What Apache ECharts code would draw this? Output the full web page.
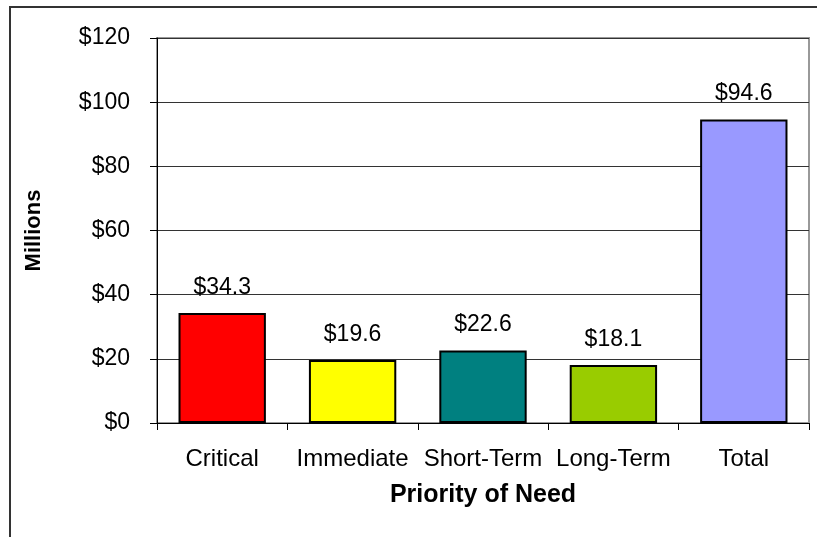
<!DOCTYPE html>
<html>
<head>
<meta charset="utf-8">
<script src="https://cdn.jsdelivr.net/npm/echarts@6/dist/echarts.min.js"></script>
<style>
html,body{margin:0;padding:0;background:#fff;}
#chart{width:817px;height:537px;}
</style>
</head>
<body>
<div id="chart"></div>
<script>
const categories = ['Critical', 'Immediate', 'Short-Term', 'Long-Term', 'Total'];
const values = [34.3, 19.6, 22.6, 18.1, 94.6];
const barColors = ['#FF0000', '#FFFF00', '#008080', '#99CC00', '#9999FF'];
const yMin = 0, yMax = 120, yStep = 20;
const xTitle = 'Priority of Need';
const yTitle = 'Millions';

const FONT = '"Liberation Sans", Arial, sans-serif';
const chart = echarts.init(document.getElementById('chart'), null, {renderer: 'canvas'});
chart.setOption({
  animation: false,
  backgroundColor: '#fff',
  graphic: [{
    type: 'rect', z: -1,
    shape: {x: 10, y: 7, width: 900, height: 700},
    style: {fill: 'none', stroke: '#333', lineWidth: 2}
  }],
  grid: {left: 157, right: 8, top: 38, bottom: 114, show: true, borderColor: '#999', borderWidth: 2, backgroundColor: 'transparent'},
  xAxis: {
    type: 'category',
    data: categories,
    axisLine: {lineStyle: {color: '#000', width: 1}},
    axisTick: {show: true, length: 7, lineStyle: {color: '#000'}},
    axisLabel: {color: '#000', fontSize: 24, fontFamily: FONT, margin: 24, interval: 0, hideOverlap: false},
    name: xTitle,
    nameLocation: 'middle',
    nameGap: 60,
    nameTextStyle: {color: '#000', fontSize: 25, fontWeight: 'bold', fontFamily: FONT}
  },
  yAxis: {
    type: 'value',
    min: yMin, max: yMax, interval: yStep,
    axisLine: {show: true, lineStyle: {color: '#000', width: 1}},
    axisTick: {show: true, length: 7, lineStyle: {color: '#000'}},
    splitLine: {show: true, lineStyle: {color: '#333', width: 1}},
    axisLabel: {color: '#000', fontSize: 23, fontFamily: FONT, margin: 27, formatter: v => '$' + v},
    name: yTitle,
    nameLocation: 'middle',
    nameRotate: 90,
    nameGap: 112,
    nameTextStyle: {color: '#000', fontSize: 22, fontWeight: 'bold', fontFamily: FONT}
  },
  series: [{
    type: 'bar',
    barWidth: '67%',
    data: values.map((v, i) => ({value: v, itemStyle: {color: barColors[i]}})),
    itemStyle: {borderColor: '#000', borderWidth: 2},
    label: {
      show: true, position: 'top', distance: 14,
      color: '#000', fontSize: 23, fontFamily: FONT,
      formatter: p => '$' + p.value.toFixed(1)
    }
  }]
});
</script>
</body>
</html>
